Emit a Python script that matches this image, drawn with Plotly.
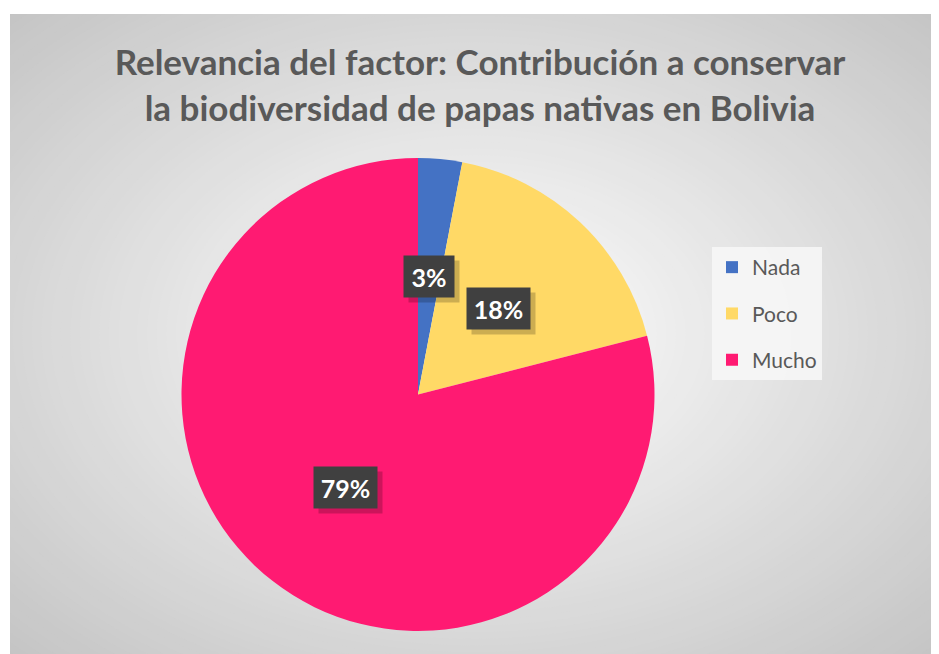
import math
import plotly.graph_objects as go

# ---- data ----
categories = ["Nada", "Poco", "Mucho"]
values = [3, 18, 79]
colors = ["#4472C4", "#FFD966", "#FF1A72"]
title_text = "Relevancia del factor: Contribución a conservar<br>la biodiversidad de papas nativas en Bolivia"

# page has an 8px body margin: figure pixel = reference pixel - OFF
OFF = 8
W, H = 939 - OFF, 654 - OFF


def fx(x):
    return (x - OFF) / W


def fy(y):
    return 1 - (y - OFF) / H


# pie geometry (reference pixels)
cx_px, cy_px, R = 418, 394.5, 236.5
dom_x = [fx(cx_px - R), fx(cx_px + R)]
dom_y = [fy(cy_px + R), fy(cy_px - R)]

fig = go.Figure()
fig.add_trace(go.Pie(
    labels=categories, values=values, sort=False, direction="clockwise",
    rotation=0, marker=dict(colors=colors, line=dict(width=0)),
    textinfo="none", hoverinfo="label+percent", showlegend=False,
    domain=dict(x=dom_x, y=dom_y),
))

# legend entries (one group each so the gap can be set)
for c, col in zip(categories, colors):
    fig.add_trace(go.Scatter(
        x=[None], y=[None], mode="markers", name=c, legendgroup=c,
        marker=dict(symbol="square", size=12, color=col),
    ))

# background: radial gradient approximated with concentric ellipses
shapes = []
gx0, gy0, gx1, gy1 = 10, 14, 938, 654
gcx, gcy = (gx0 + gx1) / 2, (gy0 + gy1) / 2
hw, hh = (gx1 - gx0) / 2, (gy1 - gy0) / 2
N = 70
dmax = 1.45
for i in range(N):
    d = dmax * (1 - i / N)
    g = int(round(255 - 41 * d))
    g = max(0, min(255, g))
    shapes.append(dict(
        type="circle", xref="paper", yref="paper", layer="below",
        x0=fx(gcx - hw * d), x1=fx(gcx + hw * d),
        y0=fy(gcy + hh * d), y1=fy(gcy - hh * d),
        fillcolor=f"rgb({g},{g},{g})", line=dict(width=0),
    ))
# white margins outside the chart area
for (a, b, c, d) in [(-50, -50, 1000, gy0), (-50, -50, gx0, 700), (gx1, -50, 1000, 700)]:
    shapes.append(dict(
        type="rect", xref="paper", yref="paper", layer="below",
        x0=fx(a), x1=fx(c), y0=fy(d), y1=fy(b),
        fillcolor="white", line=dict(width=0),
    ))

# data labels at half radius along each slice's mid-angle
annotations = []
total = sum(values)
cum = 0
for v in values:
    mid = (cum + v / 2) / total * 2 * math.pi
    cum += v
    px = cx_px + 0.5 * R * math.sin(mid)
    py = cy_px - 0.5 * R * math.cos(mid)
    txt = f"{round(100 * v / total)}%"
    bw = 13 * len(txt) + 24
    common = dict(x=fx(px), y=fy(py), xref="paper", yref="paper",
                  xanchor="center", yanchor="middle",
                  showarrow=False, borderpad=0, width=bw, height=41,
                  align="center", valign="middle")
    # drop shadow (no text)
    annotations.append(dict(common, text="&nbsp;", xshift=5, yshift=-5,
                            bgcolor="rgba(0,0,0,0.2)",
                            font=dict(family="Lato", size=25, color="rgba(0,0,0,0)")))
    annotations.append(dict(common, text=txt, bgcolor="#404040",
                            font=dict(family="Lato", size=25, color="white", weight="bold")))

fig.update_layout(
    width=W, height=H, autosize=False,
    margin=dict(l=0, r=0, t=0, b=0),
    paper_bgcolor="white", plot_bgcolor="rgba(0,0,0,0)",
    xaxis=dict(visible=False), yaxis=dict(visible=False),
    title=dict(text=title_text, x=fx(480), xanchor="center",
               y=fy(75), yanchor="middle", yref="container",
               font=dict(family="Lato", size=35, color="#595959", weight="bold")),
    legend=dict(x=fx(712), y=fy(247), xanchor="left", yanchor="top",
                bgcolor="rgba(246,246,246,0.9)", tracegroupgap=16,
                font=dict(family="Lato", size=21, color="#595959")),
    shapes=shapes, annotations=annotations,
)

fig.write_html("out.html")
